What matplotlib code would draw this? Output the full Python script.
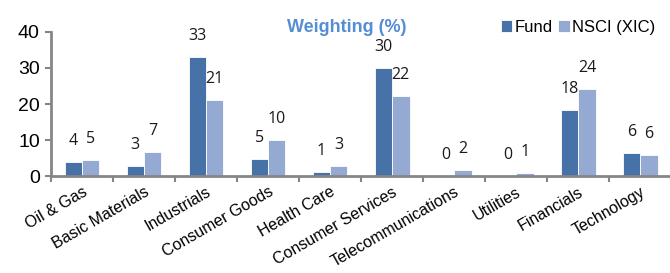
import numpy as np
import matplotlib.pyplot as plt

sectors = ["Oil & Gas", "Basic Materials", "Industrials", "Consumer Goods",
           "Health Care", "Consumer Services", "Telecommunications",
           "Utilities", "Financials", "Technology"]
fund = [3.9, 2.8, 33.0, 4.7, 1.2, 30.0, 0.0, 0.0, 18.3, 6.4]
nsci = [4.6, 6.7, 21.1, 10.0, 2.8, 22.3, 1.6, 0.8, 24.2, 5.9]

FUND_C = "#4672A8"
NSCI_C = "#95AAD3"
AXIS_C = "#868686"

plt.rcParams['font.family'] = ['Liberation Sans', 'DejaVu Sans']

fig = plt.figure(figsize=(6.7, 2.73), dpi=100)
ax = fig.add_axes([0.076, 0.355, 0.926, 0.528])

x = np.arange(len(sectors))
w = 0.28
b1 = ax.bar(x - w / 2, fund, w, color=FUND_C, edgecolor="white", linewidth=0.6, label="Fund")
b2 = ax.bar(x + w / 2, nsci, w, color=NSCI_C, edgecolor="white", linewidth=0.6, label="NSCI (XIC)")

for bars, vals in [(b1, fund), (b2, nsci)]:
    for bar, v in zip(bars, vals):
        ax.annotate(f"{round(v)}", (bar.get_x() + bar.get_width() / 2, v),
                    xytext=(0, 15), textcoords="offset points",
                    ha="center", va="center", fontsize=11.5,
                    family=["Open Sans", "DejaVu Sans"], color="#1a1a1a")

ax.set_xlim(-0.5, len(sectors) - 0.5)
ax.set_ylim(0, 40)
ax.set_yticks([0, 10, 20, 30, 40])
ax.tick_params(axis="y", labelsize=14, length=4, width=1.5, color=AXIS_C, pad=4)

ax.set_xticks(x)
ax.set_xticklabels(sectors, rotation=30, ha="right", rotation_mode="anchor", fontsize=11.5)
ax.tick_params(axis="x", length=0, pad=6)
ax.set_xticks(np.arange(len(sectors) + 1) - 0.5, minor=True)
ax.tick_params(axis="x", which="minor", length=4, width=1.5, color=AXIS_C)

for s in ["top", "right"]:
    ax.spines[s].set_visible(False)
for s in ["left", "bottom"]:
    ax.spines[s].set_color(AXIS_C)
    ax.spines[s].set_linewidth(2)

fig.text(0.518, 0.9, "Weighting (%)", ha="center", va="center",
         fontsize=13, fontweight="bold", color="#558ED5")

ax.legend(loc="upper right", bbox_to_anchor=(0.985, 1.13), ncol=2, frameon=False,
          fontsize=12, handlelength=0.7, handleheight=0.7, handletextpad=0.15,
          columnspacing=0.3, borderaxespad=0)

fig.savefig("out.png", dpi=100)
